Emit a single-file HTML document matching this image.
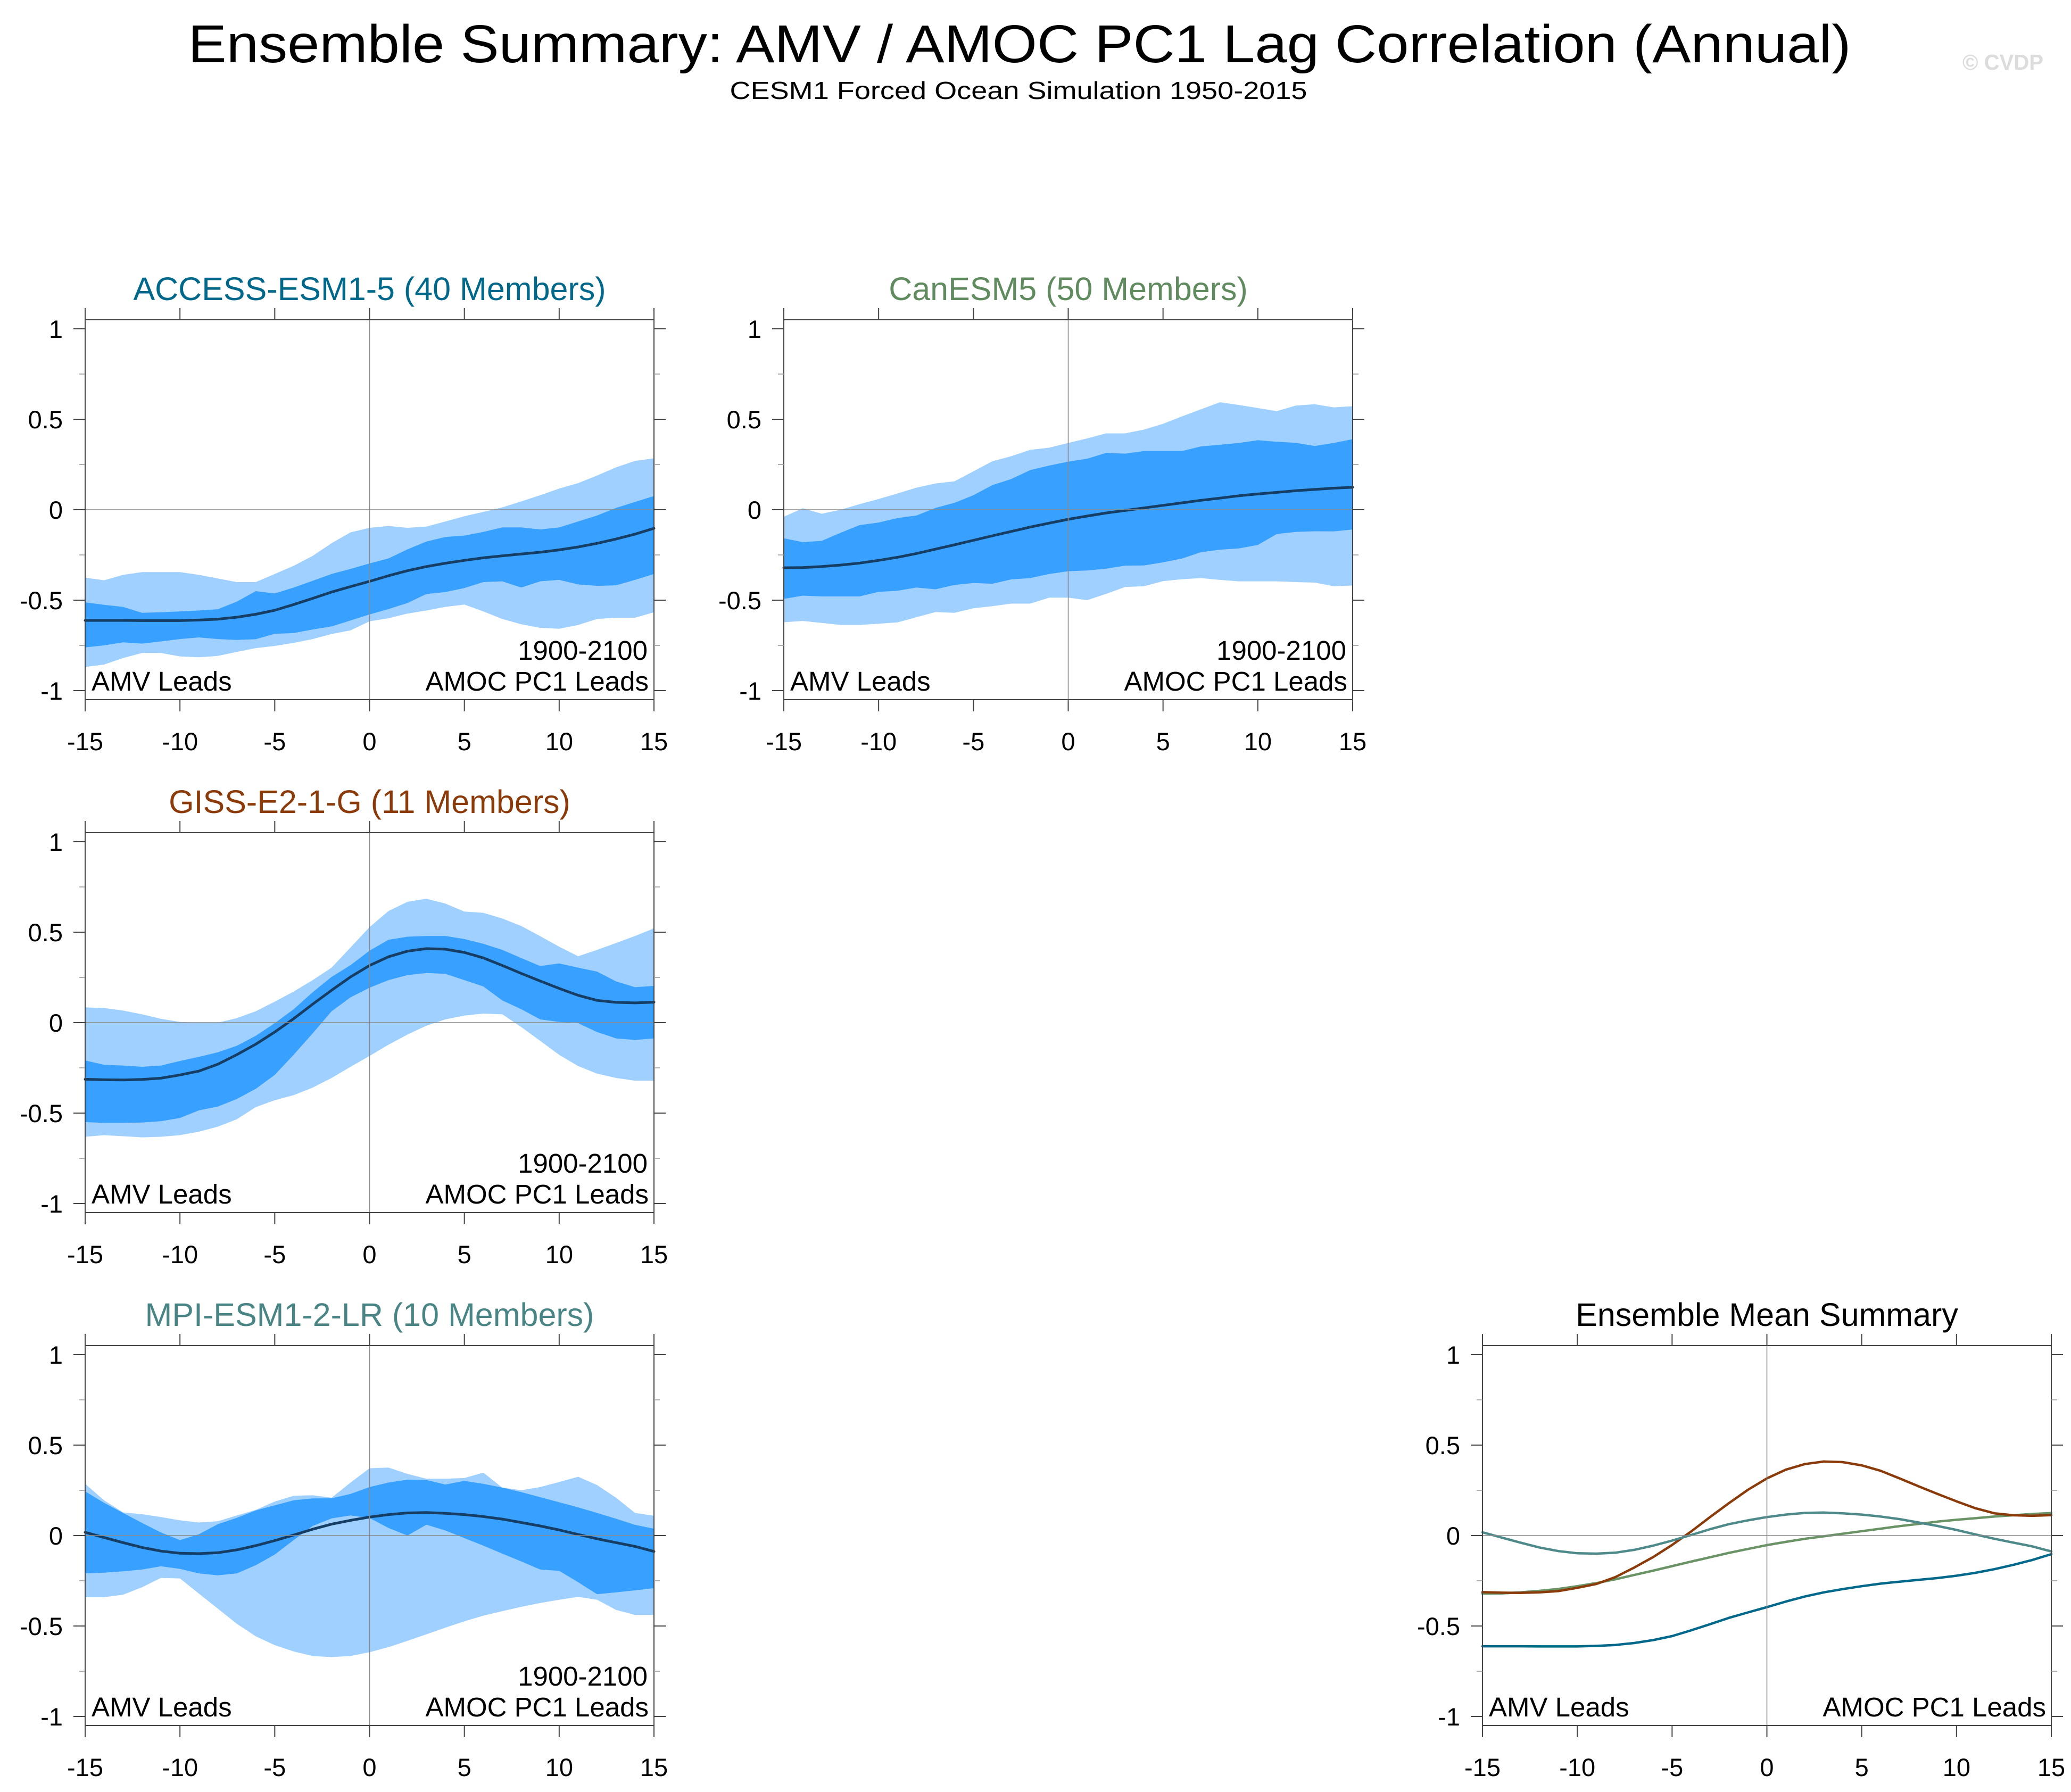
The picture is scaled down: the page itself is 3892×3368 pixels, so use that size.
<!DOCTYPE html>
<html><head><meta charset="utf-8"><style>
html,body{margin:0;padding:0;background:#fff;}
svg{display:block;font-family:"Liberation Sans",Arial,sans-serif;}
</style></head><body>
<svg id="fig" xmlns="http://www.w3.org/2000/svg" width="3892" height="3368" viewBox="0 0 3892 3368">
<rect width="3892" height="3368" fill="#fff"/>
<text x="1916" y="117" font-size="100" text-anchor="middle" textLength="3125" lengthAdjust="spacingAndGlyphs">Ensemble Summary: AMV / AMOC PC1 Lag Correlation (Annual)</text>
<text x="1914" y="186" font-size="46" text-anchor="middle" textLength="1085" lengthAdjust="spacingAndGlyphs">CESM1 Forced Ocean Simulation 1950-2015</text>
<text x="3688" y="131" font-size="41" font-weight="bold" fill="#dcdcdc" textLength="152" lengthAdjust="spacingAndGlyphs">© CVDP</text>
</svg>
<script>
// ---- data (lags -15..15) ----
const lags = [-15,-14,-13,-12,-11,-10,-9,-8,-7,-6,-5,-4,-3,-2,-1,0,1,2,3,4,5,6,7,8,9,10,11,12,13,14,15];
const xTicks = [-15,-10,-5,0,5,10,15];
const xTickLabels = ["-15","-10","-5","0","5","10","15"];
const yTicks = [1,0.5,0,-0.5,-1];
const yTickLabels = ["1","0.5","0","-0.5","-1"];
const yMinorTicks = [0.75,0.25,-0.25,-0.75];

const accessLoLight = [-0.869,-0.856,-0.82,-0.792,-0.792,-0.811,-0.816,-0.808,-0.786,-0.765,-0.753,-0.736,-0.715,-0.687,-0.667,-0.617,-0.6,-0.574,-0.557,-0.537,-0.524,-0.562,-0.604,-0.633,-0.653,-0.658,-0.637,-0.604,-0.597,-0.597,-0.567];
const accessLoDark = [-0.761,-0.75,-0.733,-0.74,-0.728,-0.715,-0.706,-0.715,-0.72,-0.716,-0.686,-0.682,-0.662,-0.645,-0.612,-0.579,-0.549,-0.516,-0.466,-0.455,-0.433,-0.40,-0.396,-0.43,-0.396,-0.388,-0.413,-0.421,-0.418,-0.388,-0.355];
const accessMean = [-0.612,-0.612,-0.612,-0.613,-0.613,-0.613,-0.61,-0.605,-0.594,-0.578,-0.556,-0.524,-0.49,-0.455,-0.425,-0.396,-0.365,-0.337,-0.314,-0.296,-0.28,-0.266,-0.255,-0.245,-0.235,-0.222,-0.206,-0.186,-0.162,-0.135,-0.103];
const accessHiDark = [-0.512,-0.526,-0.537,-0.57,-0.567,-0.562,-0.557,-0.55,-0.508,-0.45,-0.463,-0.43,-0.393,-0.355,-0.327,-0.297,-0.269,-0.219,-0.176,-0.151,-0.143,-0.123,-0.098,-0.098,-0.109,-0.098,-0.065,-0.032,0.01,0.043,0.076];
const accessHiLight = [-0.376,-0.39,-0.36,-0.345,-0.345,-0.345,-0.36,-0.38,-0.40,-0.40,-0.355,-0.31,-0.255,-0.185,-0.125,-0.10,-0.09,-0.10,-0.093,-0.065,-0.036,-0.012,0.013,0.046,0.08,0.117,0.147,0.189,0.234,0.27,0.284];

const canLoLight = [-0.622,-0.615,-0.626,-0.637,-0.637,-0.63,-0.623,-0.594,-0.566,-0.57,-0.545,-0.533,-0.519,-0.519,-0.486,-0.486,-0.5,-0.465,-0.427,-0.423,-0.395,-0.384,-0.378,-0.388,-0.396,-0.396,-0.396,-0.4,-0.403,-0.423,-0.419];
const canLoDark = [-0.493,-0.475,-0.479,-0.479,-0.479,-0.454,-0.448,-0.43,-0.44,-0.416,-0.405,-0.409,-0.385,-0.378,-0.355,-0.34,-0.336,-0.326,-0.309,-0.308,-0.291,-0.27,-0.235,-0.221,-0.214,-0.195,-0.134,-0.123,-0.119,-0.12,-0.109];
const canMean = [-0.321,-0.32,-0.314,-0.306,-0.295,-0.28,-0.263,-0.242,-0.218,-0.194,-0.169,-0.144,-0.12,-0.096,-0.074,-0.053,-0.035,-0.018,-0.004,0.01,0.024,0.038,0.052,0.064,0.077,0.087,0.096,0.105,0.112,0.119,0.124];
const canHiDark = [-0.158,-0.179,-0.172,-0.127,-0.085,-0.071,-0.046,-0.032,0.01,0.038,0.08,0.136,0.17,0.219,0.244,0.266,0.282,0.314,0.31,0.324,0.324,0.324,0.35,0.359,0.369,0.384,0.376,0.37,0.352,0.369,0.39];
const canHiLight = [-0.039,0.008,-0.022,0,0.031,0.059,0.09,0.122,0.145,0.157,0.212,0.268,0.296,0.331,0.343,0.369,0.394,0.422,0.422,0.443,0.475,0.516,0.555,0.594,0.579,0.562,0.545,0.576,0.583,0.566,0.572];

const gissLoLight = [-0.631,-0.622,-0.628,-0.634,-0.631,-0.622,-0.603,-0.575,-0.534,-0.467,-0.429,-0.401,-0.359,-0.306,-0.244,-0.184,-0.122,-0.066,-0.017,0.018,0.039,0.05,0.046,-0.024,-0.101,-0.178,-0.24,-0.282,-0.306,-0.321,-0.321];
const gissLoDark = [-0.55,-0.554,-0.554,-0.552,-0.545,-0.527,-0.485,-0.464,-0.422,-0.366,-0.289,-0.177,-0.059,0.063,0.14,0.193,0.235,0.263,0.274,0.27,0.235,0.2,0.123,0.074,0.018,0.004,-0.003,-0.052,-0.087,-0.096,-0.087];
const gissMean = [-0.313,-0.316,-0.317,-0.314,-0.307,-0.289,-0.268,-0.23,-0.177,-0.119,-0.052,0.022,0.102,0.179,0.253,0.316,0.364,0.395,0.409,0.406,0.388,0.358,0.316,0.272,0.23,0.189,0.151,0.123,0.112,0.109,0.113];
const gissHiDark = [-0.209,-0.233,-0.237,-0.244,-0.237,-0.212,-0.189,-0.164,-0.128,-0.073,-0.003,0.074,0.168,0.253,0.318,0.398,0.458,0.475,0.479,0.479,0.462,0.436,0.402,0.357,0.313,0.327,0.304,0.282,0.228,0.196,0.203];
const gissHiLight = [0.084,0.081,0.067,0.046,0.021,0.004,0,0,0.025,0.063,0.116,0.172,0.235,0.304,0.416,0.528,0.617,0.668,0.685,0.658,0.614,0.607,0.576,0.534,0.478,0.42,0.367,0.402,0.44,0.479,0.521];

const mpiLoLight = [-0.341,-0.341,-0.327,-0.286,-0.234,-0.237,-0.321,-0.404,-0.488,-0.557,-0.606,-0.641,-0.666,-0.672,-0.666,-0.645,-0.617,-0.582,-0.546,-0.509,-0.474,-0.443,-0.418,-0.394,-0.373,-0.355,-0.339,-0.355,-0.411,-0.439,-0.439];
const mpiLoDark = [-0.209,-0.205,-0.198,-0.188,-0.17,-0.184,-0.209,-0.22,-0.209,-0.164,-0.105,-0.025,0.053,0.095,0.111,0.097,0.042,0,0.06,0.028,-0.014,-0.056,-0.100,-0.143,-0.188,-0.195,-0.258,-0.324,-0.314,-0.303,-0.291];
const mpiMean = [0.018,-0.011,-0.039,-0.066,-0.086,-0.098,-0.1,-0.095,-0.079,-0.056,-0.028,0.003,0.035,0.063,0.084,0.102,0.116,0.125,0.127,0.123,0.116,0.105,0.091,0.072,0.053,0.031,0.006,-0.018,-0.039,-0.06,-0.088];
const mpiHiDark = [0.244,0.181,0.125,0.07,0.017,-0.025,0.007,0.063,0.098,0.139,0.167,0.195,0.205,0.206,0.23,0.268,0.293,0.309,0.307,0.282,0.302,0.286,0.265,0.24,0.212,0.184,0.156,0.125,0.093,0.059,0.038];
const mpiHiLight = [0.286,0.195,0.128,0.118,0.102,0.084,0.072,0.079,0.111,0.142,0.188,0.22,0.223,0.209,0.293,0.372,0.376,0.341,0.314,0.314,0.318,0.348,0.265,0.251,0.268,0.296,0.325,0.279,0.209,0.125,0.109];

const modelNames = ["ACCESS-ESM1-5 (40 Members)","CanESM5 (50 Members)","GISS-E2-1-G (11 Members)","MPI-ESM1-2-LR (10 Members)"];
const modelColors = ["#00688b","#5f8b5f","#8b3a0a","#4a8585"];

// ---- layout ----
const NS = "http://www.w3.org/2000/svg";
const svg = document.getElementById('fig');
const PW = 1069, UNIT = 340;
function mk(tag, attrs, parent){const e=document.createElementNS(NS,tag);for(const k in attrs)e.setAttribute(k,attrs[k]);(parent||svg).appendChild(e);return e;}

function makePanel(px, py1, name, title, titleColor, hasRange){
  const g = mk('g',{});
  
  
  const xs = v => px + (v+15)/30*PW;
  const ys = v => py1 + (1-v)*UNIT;
  const top = ys(1.05), bot = ys(-1.05);
  return {g, xs, ys, top, bot, px, title, titleColor, hasRange};
}

function drawAxes(p){
  const {g, xs, ys, top, bot, px} = p;
  const gx = mk('line',{x1:xs(0),x2:xs(0),y1:top,y2:bot,stroke:'#8a8a8a','stroke-width':1.6},g);
  
  
  const gy = mk('line',{x1:px,x2:px+PW,y1:ys(0),y2:ys(0),stroke:'#8a8a8a','stroke-width':1.6},g);
  
  
  const fr = mk('rect',{x:px,y:top,width:PW,height:bot-top,fill:'none',stroke:'#444','stroke-width':2},g);
  
  
  xTicks.forEach((t,i)=>{
    mk('line',{x1:xs(t),x2:xs(t),y1:top,y2:top-22,stroke:'#444','stroke-width':2},g);
    mk('line',{x1:xs(t),x2:xs(t),y1:bot,y2:bot+22,stroke:'#444','stroke-width':2},g);
    const tl = mk('text',{x:xs(t),y:bot+95,'font-size':47,'text-anchor':'middle'},g);
    tl.textContent = xTickLabels[i];
    
    
  });
  yTicks.forEach((t,i)=>{
    mk('line',{x1:px-22,x2:px,y1:ys(t),y2:ys(t),stroke:'#444','stroke-width':2},g);
    mk('line',{x1:px+PW,x2:px+PW+22,y1:ys(t),y2:ys(t),stroke:'#444','stroke-width':2},g);
    const tl = mk('text',{x:px-42,y:ys(t)+17,'font-size':47,'text-anchor':'end'},g);
    tl.textContent = yTickLabels[i];
    
    
  });
  yMinorTicks.forEach(t=>{
    mk('line',{x1:px-11,x2:px,y1:ys(t),y2:ys(t),stroke:'#999','stroke-width':1.6},g);
    mk('line',{x1:px+PW,x2:px+PW+11,y1:ys(t),y2:ys(t),stroke:'#999','stroke-width':1.6},g);
  });
  const tt = mk('text',{x:px+PW/2,y:top-37,'font-size':61,'text-anchor':'middle',fill:p.titleColor},g);
  tt.textContent = p.title;
  
  
  const a1 = mk('text',{x:px+12,y:ys(-1),'font-size':51},g);
  a1.textContent='AMV Leads';
  
  
  const a2 = mk('text',{x:px+PW-10,y:ys(-1),'font-size':51,'text-anchor':'end'},g);
  a2.textContent='AMOC PC1 Leads';
  
  
  if(p.hasRange){
    const a3 = mk('text',{x:px+PW-12,y:ys(-1)-58,'font-size':51,'text-anchor':'end'},g);
    a3.textContent='1900-2100';
    
    
  }
}

function band(p, lo, hi, color, name){
  let d='M';
  lags.forEach((l,i)=>{d+=(i?' L':'')+p.xs(l).toFixed(1)+' '+p.ys(hi[i]).toFixed(1);});
  for(let i=lags.length-1;i>=0;i--){d+=' L'+p.xs(lags[i]).toFixed(1)+' '+p.ys(lo[i]).toFixed(1);}
  d+=' Z';
  const e = mk('path',{d:d,fill:color,stroke:'none'},p.g);
  
  
}
function line(p, vals, color, w, name){
  const pts = lags.map((l,i)=>p.xs(l).toFixed(1)+','+p.ys(vals[i]).toFixed(1)).join(' ');
  const e = mk('polyline',{points:pts,fill:'none',stroke:color,'stroke-width':w,'stroke-linejoin':'round','stroke-linecap':'round'},p.g);
  
  
}

const cols=[160,1473,2786], rows=[618,1582,2546];
const ens = [
  {c:0,r:0,name:'access-panel',lo2:accessLoLight,lo1:accessLoDark,m:accessMean,hi1:accessHiDark,hi2:accessHiLight},
  {c:1,r:0,name:'canesm-panel',lo2:canLoLight,lo1:canLoDark,m:canMean,hi1:canHiDark,hi2:canHiLight},
  {c:0,r:1,name:'giss-panel',lo2:gissLoLight,lo1:gissLoDark,m:gissMean,hi1:gissHiDark,hi2:gissHiLight},
  {c:0,r:2,name:'mpi-panel',lo2:mpiLoLight,lo1:mpiLoDark,m:mpiMean,hi1:mpiHiDark,hi2:mpiHiLight}
];
ens.forEach((e,k)=>{
  const p = makePanel(cols[e.c], rows[e.r], e.name, modelNames[k], modelColors[k], true);
  band(p, e.lo2, e.hi2, '#a0d0ff', 'outer-spread-band');
  band(p, e.lo1, e.hi1, '#38a0ff', 'inner-spread-band');
  line(p, e.m, '#163d63', 5, 'ensemble-mean-line');
  drawAxes(p);
});
const sp = makePanel(cols[2], rows[2], 'summary-panel', 'Ensemble Mean Summary', '#000', false);
line(sp, accessMean, modelColors[0], 4.5, 'summary-access-line');
line(sp, canMean, '#6b9466', 4.5, 'summary-canesm-line');
line(sp, gissMean, modelColors[2], 4.5, 'summary-giss-line');
line(sp, mpiMean, '#4f8a8b', 4.5, 'summary-mpi-line');
drawAxes(sp);
</script>
</body></html>
